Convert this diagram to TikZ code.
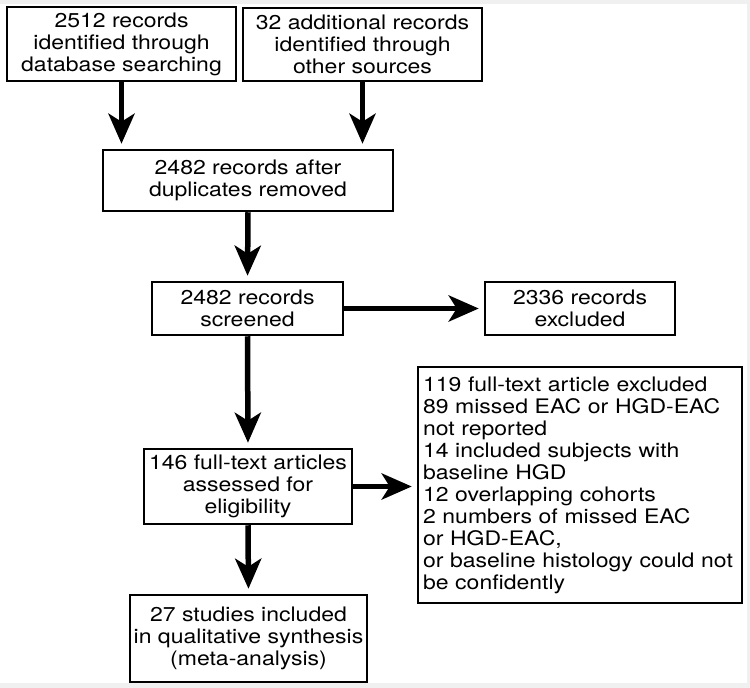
\documentclass[tikz,border=0pt]{standalone}
\usepackage{fontspec}
\setmainfont{TeX Gyre Heros}[FakeStretch=1.15]
\usepackage{tikz}
\usetikzlibrary{arrows.meta,positioning,backgrounds}

\begin{document}
\begin{tikzpicture}[x=1pt,y=1pt]

\tikzstyle{block} = [draw=black, line width=2.5pt, fill=white, text centered, align=center, inner sep=0pt,
  font=\fontsize{20}{22}\selectfont]
\tikzstyle{textblock} = [draw=black, line width=2.5pt, fill=white, align=left, inner xsep=5pt,
  font=\fontsize{20}{22}\selectfont]

\tikzset{
  flow arrow/.style={-{Stealth[length=30pt,width=26pt,inset=8pt]}, line width=5.5pt, shorten >=5pt}
}

\useasboundingbox (0,0) rectangle (750,-688);
\fill[black!6] (0,0) rectangle (750,-688);
\fill[white] (0,-4) rectangle (747,-683);

\coordinate (anchor) at (0,0);

%Identification: top row

\path (anchor)+(121.5,-44) node (src_db) [block, minimum width=229pt, minimum height=74pt]
  {2512 records\\identified through\\database searching};

\path (anchor)+(362.5,-44.5) node (src_other) [block, minimum width=239pt, minimum height=73pt]
  {32 additional records\\identified through\\other sources};

%Screening: middle left

\path (anchor)+(248,-180.5) node (dedup) [block, minimum width=290pt, minimum height=61pt]
  {2482 records after\\duplicates removed};

\path (anchor)+(247.5,-308.5) node (screened) [block, minimum width=191pt, minimum height=53pt]
  {2482 records\\screened};

\path (anchor)+(580,-308.5) node (rec_excl) [block, minimum width=190pt, minimum height=53pt]
  {2336 records\\excluded};

%Eligibility: bottom

\path (anchor)+(248,-486.5) node (fulltext) [block, minimum width=208pt, minimum height=75pt]
  {146 full-text articles\\assessed for\\eligibility};

\path (anchor)+(580,-485) node (ft_excl) [textblock, text width=314pt, minimum height=236pt]
  {119 full-text article excluded\\
   89 missed EAC or HGD-EAC\\
   not reported\\
   14 included subjects with\\
   baseline HGD\\
   12 overlapping cohorts\\
   2 numbers of missed EAC\\
   or HGD-EAC,\\
   or baseline histology could not\\
   be confidently};

\path (anchor)+(248.5,-638.5) node (included) [block, minimum width=237pt, minimum height=87pt]
  {27 studies included\\in qualitative synthesis\\(meta-analysis)};

%Arrows

\draw [flow arrow] (src_db.south) -- (src_db.south |- dedup.north);
\draw [flow arrow] (src_other.south) -- (src_other.south |- dedup.north);
\draw [flow arrow] (dedup.south) -- (screened.north);
\draw [flow arrow] (screened.east) -- (rec_excl.west);
\draw [flow arrow] (screened.south) -- (fulltext.north);
\draw [flow arrow] (fulltext.east) -- (fulltext.east -| ft_excl.west);
\draw [flow arrow] (fulltext.south) -- (included.north);

\end{tikzpicture}
\end{document}
